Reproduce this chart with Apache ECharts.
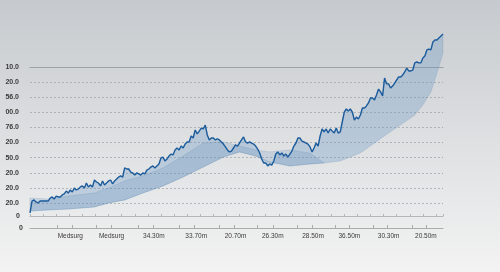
<!DOCTYPE html>
<html><head><meta charset="utf-8">
<script src="https://cdn.jsdelivr.net/npm/echarts@6/dist/echarts.min.js"></script>
<style>html,body{margin:0;padding:0;}#c{width:500px;height:272px;}</style>
</head><body><div id="c"></div>
<script>
// Y tick labels, bottom (value 0) to top (value 90)
var yLabels = ['20.0','20.0','20.0','50.0','20.0','76.0','00.0','56.0','20.0','10.0'];
// X labels and their positions (in sample-index units)
var xLabels = ['Medsurg','Medsurg','34.30m','33.70m','20.70m','26.30m','28.50m','36.50m','30.30m','20.50m'];
var xLabelPos = [20, 40.5, 61.5, 82.5, 102, 120.5, 140.5, 158.5, 178, 196.5];
var xTickPos = [13.5, 21, 33, 40.5, 53.5, 61, 74, 81.5, 94, 101.5, 113, 120.5, 132.5, 140, 151.5, 158.5, 170.5, 177.5, 189.5, 196.5];
// main series values
var lineVals = [-6.6,1.3,2.0,0.7,0,1.3,1.3,1.3,1.3,1.3,3.3,4.0,2.6,4.6,4.0,4.0,5.3,6.0,7.9,6.6,
8.6,7.3,9.9,8.6,9.3,10.6,11.3,9.9,13.2,10.6,11.9,10.6,15.2,13.9,13.2,11.3,14.6,11.9,13.2,14.6,
15.2,12.6,14.6,15.9,17.2,17.9,17.2,23.2,22.5,22.5,20.5,19.9,18.5,19.9,19.2,18.5,19.9,19.2,21.8,22.5,
23.8,24.5,23.2,24.5,25.8,29.8,30.4,27.8,29.1,31.1,32.4,31.8,35.1,36.4,35.1,37.7,36.4,39.0,40.4,40.4,
44.3,43.0,48.3,45.7,47.6,49.6,49.0,51.6,45.0,41.7,43.0,43.0,41.7,42.4,41.7,40.4,39.0,37.1,35.1,33.8,
34.4,36.4,38.4,37.7,39.7,41.7,43.7,40.4,39.7,40.4,39.7,39.0,37.7,35.7,33.1,29.1,26.5,26.5,24.5,25.8,
25.1,27.8,32.4,33.8,31.8,33.1,31.1,32.4,30.4,32.4,34.4,37.7,39.7,43.0,43.0,41.0,40.4,39.7,39.0,37.1,
33.8,36.4,39.7,37.7,44.3,49.0,47.0,49.0,46.3,49.0,47.6,46.3,49.6,46.3,47.0,53.6,60.2,62.2,60.9,62.2,
60.2,54.9,56.9,55.6,58.2,62.9,62.9,64.2,66.2,69.5,69.5,68.2,71.5,75.4,73.5,70.8,82.7,78.8,78.8,76.1,
77.4,79.4,81.4,83.4,83.4,84.7,86.7,89.3,87.4,87.4,88.0,92.7,93.3,92.7,92.7,96.0,97.3,101.3,101.9,101.3,
106.6,107.9,107.9,109.2,110.5,111.8];
// lower envelope
var lowerX = [0,9,19,32,39,47,56,66,76,86,96,104,112,119,129,139,146,154,164,171,178,186,191,195,199,202,205];
var lowerVals = [-5.3,-4.6,-4.0,-2.6,0,2.0,6.6,11.3,17.2,23.8,30.4,33.8,31.1,27.1,24.5,25.8,26.5,27.8,33.1,39.7,46.3,53.6,58.2,64.9,73.5,86.0,99.3];
// upper envelope of the band (first part of the x range)
var bandUpper = [3.3,2.6,4.6,6.6,9.9,14.6,17.9,23.2,31.1,39.7,40.4,37.7,35.1,33.8,35.1,33.0,26.5];

var chart = echarts.init(document.getElementById('c'), null, {renderer:'canvas'});
var FONT = 'Liberation Sans';
var N = lineVals.length - 1;

function bandRender(params, api){
  var pts = [];
  for (var i = 0; i < bandUpper.length; i++) pts.push(api.coord([lowerX[i], bandUpper[i]]));
  for (var j = bandUpper.length - 1; j >= 0; j--) pts.push(api.coord([lowerX[j], lowerVals[j]]));
  return {type:'polygon', shape:{points:pts}, style:{fill:'rgba(80,130,180,0.18)', stroke:'rgba(80,125,170,0.3)', lineWidth:0.6}};
}
function areaRender(params, api){
  var pts = [];
  for (var i = 0; i < lineVals.length; i++) pts.push(api.coord([i, lineVals[i]]));
  for (var j = lowerX.length - 1; j >= 0; j--) pts.push(api.coord([lowerX[j], lowerVals[j]]));
  return {type:'polygon', shape:{points:pts}, style:{fill:'rgba(95,145,195,0.30)', stroke:'rgba(80,125,170,0.3)', lineWidth:0.6}};
}

var option = {
  animation:false,
  backgroundColor:{type:'linear', x:0, y:0, x2:0, y2:1, colorStops:[
    {offset:0, color:'#c6cace'}, {offset:0.5, color:'#dddfe1'}, {offset:1, color:'#f3f3f3'}]},
  grid:[
    {left:30, right:57, top:67, bottom:69},
    {left:30, right:57, top:203, bottom:44},
    {left:30, right:57, top:203, bottom:56}
  ],
  xAxis:[
    {gridIndex:0, type:'value', min:0, max:N, show:false},
    {gridIndex:0, type:'value', min:0, max:N, position:'top',
     axisLine:{show:true, lineStyle:{color:'#9ea2a6', width:1.2}}, axisTick:{show:false}, axisLabel:{show:false}, splitLine:{show:false}},
    {gridIndex:1, type:'value', min:0, max:N, position:'bottom',
     axisLine:{show:true, lineStyle:{color:'#a9abad', width:1}},
     axisTick:{show:true, inside:true, length:3, customValues:xTickPos, lineStyle:{color:'#a9abad'}},
     axisLabel:{show:true, customValues:xLabelPos, margin:5, color:'#3a3a3a', fontSize:6.5, fontFamily:FONT,
       formatter:function(v){ var k = xLabelPos.indexOf(v); return k >= 0 ? xLabels[k] : ''; }},
     splitLine:{show:false}},
    {gridIndex:2, type:'value', min:0, max:N, interval:6.5, position:'bottom',
     axisLine:{show:true, lineStyle:{color:'#b4b6b8', width:1}},
     axisTick:{show:true, inside:true, length:2, lineStyle:{color:'#b4b6b8'}},
     axisLabel:{show:false}, splitLine:{show:false}}
  ],
  yAxis:[
    {gridIndex:0, type:'value', min:0, max:90, interval:10,
     axisLine:{show:false}, axisTick:{show:false},
     axisLabel:{margin:11, color:'#3a3a3a', fontSize:7, fontWeight:'bold', fontFamily:FONT,
       formatter:function(v){ return yLabels[Math.round(v/10)]; }},
     splitLine:{show:true, lineStyle:{color:'#a4a8ac', type:[2,2], width:0.8}}},
    {gridIndex:1, type:'value', min:0, max:1, interval:1,
     axisLine:{show:false}, axisTick:{show:false}, splitLine:{show:false},
     axisLabel:{margin:7, color:'#3a3a3a', fontSize:7, fontWeight:'bold', fontFamily:FONT,
       formatter:function(v){ return v === 0 ? '0' : ''; }}},
    {gridIndex:2, type:'value', min:0, max:1, interval:1,
     axisLine:{show:false}, axisTick:{show:false}, splitLine:{show:false},
     axisLabel:{margin:10, color:'#3a3a3a', fontSize:7, fontWeight:'bold', fontFamily:FONT,
       formatter:function(v){ return v === 0 ? '0' : ''; }}}
  ],
  series:[
    {type:'custom', xAxisIndex:0, yAxisIndex:0, renderItem:areaRender, data:[[0,0]], silent:true, clip:false, z:1},
    {type:'custom', xAxisIndex:0, yAxisIndex:0, renderItem:bandRender, data:[[0,0]], silent:true, clip:false, z:2},
    {type:'line', xAxisIndex:0, yAxisIndex:0, clip:false, symbol:'none', z:3,
     data:lineVals.map(function(v,i){ return [i, v]; }),
     lineStyle:{color:'#1c5c9c', width:1.4}}
  ]
};
chart.setOption(option);
</script>
</body></html>
